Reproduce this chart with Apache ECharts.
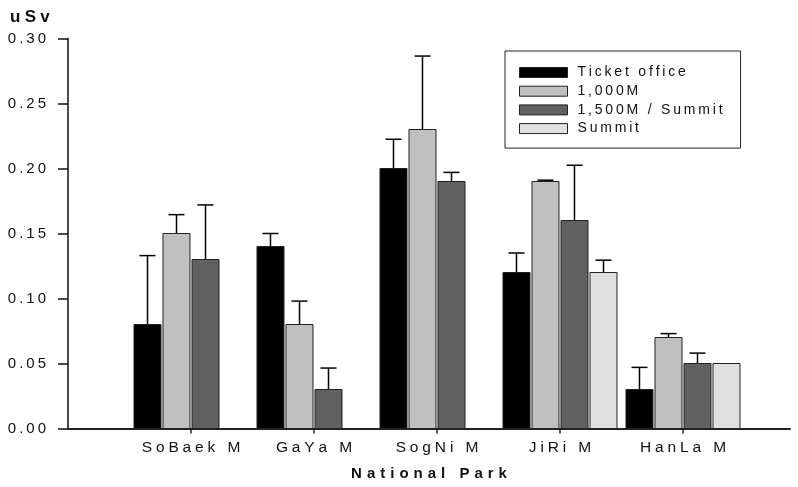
<!DOCTYPE html>
<html>
<head>
<meta charset="utf-8">
<script src="https://cdn.jsdelivr.net/npm/echarts@6/dist/echarts.min.js"></script>
<style>
  html, body { margin: 0; padding: 0; background: #fff; }
  #chart { width: 798px; height: 487px; }
</style>
</head>
<body>
<div id="chart"></div>
<script>
// categories
const parks = ['SoBaek M', 'GaYa M', 'SogNi M', 'JiRi M', 'HanLa M'];
// series (mean) and upper error (SD)
const ticketOffice = [0.08, 0.14, 0.20, 0.12, 0.03];
const ticketOfficeErr = [0.053, 0.010, 0.0225, 0.015, 0.017];
const m1000 = [0.15, 0.08, 0.23, 0.19, 0.07];
const m1000Err = [0.0145, 0.018, 0.0565, 0.001, 0.003];
const m1500 = [0.13, 0.03, 0.19, 0.16, 0.05];
const m1500Err = [0.042, 0.0165, 0.007, 0.0425, 0.008];
const summit = [null, null, null, 0.12, 0.05];
const summitErr = [null, null, null, 0.0095, 0];
// y tick labels
const yTicks = [0, 0.05, 0.10, 0.15, 0.20, 0.25, 0.30];

const seriesNames = ['Ticket office', '1,000M', '1,500M / Summit', 'Summit'];
const colors = ['#000000', '#c0c0c0', '#606060', '#e0e0e0'];

// old plotting software spreads its letters out
const sp = (s, ch) => s.split('').join(ch);

function toData(vals, errs) {
  const out = [];
  vals.forEach((v, i) => {
    if (v != null) out.push([i + 1, v, errs[i]]);
  });
  return out;
}

function barRenderer(slot) {
  return function (params, api) {
    const xi = api.value(0);
    const v = api.value(1);
    const e = api.value(2);
    const unit = api.size([1, 0])[0];
    const bw = unit * 0.2195;
    const pitch = unit * 0.2358;
    const base = api.coord([xi, 0]);
    const top = api.coord([xi, v]);
    const cx = base[0] + (slot - 1.5) * pitch;
    const children = [];
    if (e > 0) {
      const et = api.coord([xi, v + e])[1];
      children.push({
        type: 'line',
        shape: { x1: cx, y1: top[1], x2: cx, y2: et },
        style: { stroke: '#000', lineWidth: 1.5 }
      });
      children.push({
        type: 'line',
        shape: { x1: cx - 8, y1: et, x2: cx + 8, y2: et },
        style: { stroke: '#000', lineWidth: 1.5 }
      });
    }
    children.push({
      type: 'rect',
      shape: { x: cx - bw / 2, y: top[1], width: bw, height: base[1] - top[1] },
      style: { fill: colors[slot], stroke: '#222', lineWidth: 1 }
    });
    return { type: 'group', children: children };
  };
}

const seriesData = [
  toData(ticketOffice, ticketOfficeErr),
  toData(m1000, m1000Err),
  toData(m1500, m1500Err),
  toData(summit, summitErr)
];

const chart = echarts.init(document.getElementById('chart'));

const option = {
  animation: false,
  textStyle: { fontFamily: 'Liberation Sans, Arial, sans-serif', color: '#111' },
  title: {
    text: sp('uSv', '\u2005'),
    left: 10,
    top: 9,
    padding: 0,
    textStyle: { fontSize: 17, fontWeight: 'bold', color: '#111' }
  },
  legend: {
    orient: 'vertical',
    left: 505,
    top: 51,
    padding: [14, 18, 12, 14],
    itemWidth: 48,
    itemHeight: 10,
    itemGap: 3.7,
    icon: 'rect',
    borderColor: '#222',
    borderWidth: 1,
    textStyle: { fontSize: 14, lineHeight: 15, color: '#111', padding: [0, 0, 0, 5] },
    formatter: (name) => sp(name, '\u2009'),
    data: seriesNames.map((n, i) => ({
      name: n,
      itemStyle: { color: colors[i], borderColor: '#222', borderWidth: 1 }
    }))
  },
  grid: { left: 68, right: 8, top: 38.5, bottom: 58.5 },
  xAxis: {
    type: 'value',
    min: 0,
    max: 5.87,
    name: sp('National Park', '\u2004'),
    nameLocation: 'middle',
    nameGap: 38,
    nameTextStyle: { fontSize: 15, fontWeight: 'bold', color: '#111' },
    axisLine: { show: true, lineStyle: { color: '#222', width: 2 } },
    axisTick: {
      show: true,
      length: 5,
      customValues: [1, 2, 3, 4, 5],
      lineStyle: { color: '#222', width: 1.5 }
    },
    axisLabel: {
      customValues: [1, 2, 3, 4, 5],
      margin: 11,
      fontSize: 15.5,
      color: '#111',
      formatter: (v) => sp(parks[Math.round(v) - 1] || '', '\u2005')
    },
    splitLine: { show: false }
  },
  yAxis: {
    type: 'value',
    min: 0,
    max: 0.3,
    interval: 0.05,
    axisLine: { show: true, lineStyle: { color: '#111', width: 1.5 } },
    axisTick: { show: true, length: 10, lineStyle: { color: '#111', width: 1.5 } },
    axisLabel: {
      margin: 22,
      fontSize: 15,
      color: '#111',
      customValues: yTicks,
      formatter: (v) => sp(v.toFixed(2), '\u2009')
    },
    splitLine: { show: false }
  },
  series: seriesNames.map((n, i) => ({
    name: n,
    type: 'custom',
    itemStyle: { color: colors[i] },
    renderItem: barRenderer(i),
    encode: { x: 0, y: 1 },
    data: seriesData[i]
  }))
};

chart.setOption(option);
</script>
</body>
</html>
